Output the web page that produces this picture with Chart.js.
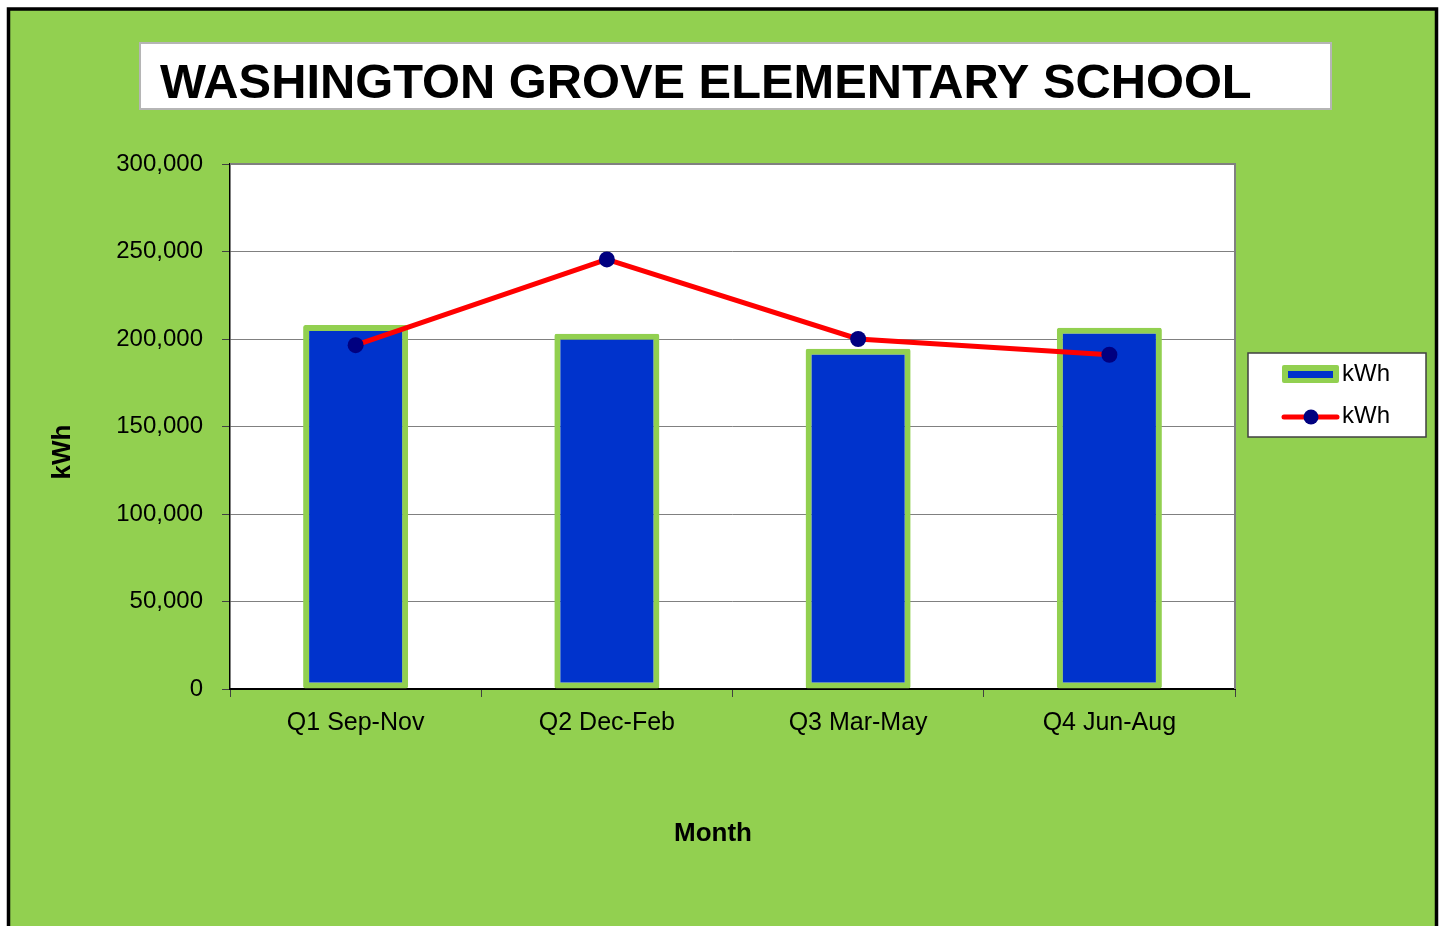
<!DOCTYPE html>
<html>
<head>
<meta charset="utf-8">
<script src="https://cdn.jsdelivr.net/npm/chart.js@4.4.0/dist/chart.umd.min.js"></script>
<style>
  html, body { margin: 0; padding: 0; background: #fff; }
  #wrap { width: 1444px; height: 926px; }
</style>
</head>
<body>
<div id="wrap"><canvas id="kwhChart" width="1444" height="926"></canvas></div>
<script>
// chart data
const chartTitle = "WASHINGTON GROVE ELEMENTARY SCHOOL";
const quarters = ["Q1 Sep-Nov", "Q2 Dec-Feb", "Q3 Mar-May", "Q4 Jun-Aug"];
const barKwh = [208000, 203000, 194500, 206500];
const lineKwh = [196500, 245500, 200000, 191000];
const yTicks = [0, 50000, 100000, 150000, 200000, 250000, 300000];
const xAxisTitle = "Month";
const yAxisTitle = "kWh";

const GREEN = "#92D050";
const BLUE = "#0033CC";
const RED = "#FF0000";
const NAVY = "#000080";
const sans = "'Liberation Sans', Arial, sans-serif";

// background, frame, title box, axis titles, legend
const decorations = {
    id: "decorations",
    beforeDraw(chart) {
        const c = chart.ctx;
        c.save();
        c.fillStyle = "#fff";
        c.fillRect(0, 0, chart.width, chart.height);
        c.fillStyle = GREEN;
        c.fillRect(8.5, 9, 1428, 1000);
        c.strokeStyle = "#000";
        c.lineWidth = 3.5;
        c.strokeRect(8.5, 9, 1428, 1000);

        // title box
        c.fillStyle = "#fff";
        c.fillRect(140, 43, 1191, 66);
        c.strokeStyle = "#b5b5b5";
        c.lineWidth = 2;
        c.strokeRect(140, 43, 1191, 66);
        c.fillStyle = "#000";
        c.font = "bold 48.8px " + sans;
        c.textBaseline = "alphabetic";
        c.textAlign = "left";
        c.fillText(chartTitle, 160, 98);

        // plot background
        const a = chart.chartArea;
        c.fillStyle = "#fff";
        c.fillRect(a.left, a.top, a.right - a.left, a.bottom - a.top);
        c.restore();
    },
    afterDraw(chart) {
        const c = chart.ctx;
        const a = chart.chartArea;
        c.save();
        // right / top plot border
        c.strokeStyle = "#808080";
        c.lineWidth = 2;
        c.beginPath();
        c.moveTo(a.left, a.top);
        c.lineTo(a.right, a.top);
        c.lineTo(a.right, a.bottom);
        c.stroke();

        // axis titles
        c.fillStyle = "#000";
        c.font = "bold 26px " + sans;
        c.textAlign = "center";
        c.textBaseline = "middle";
        c.fillText(xAxisTitle, 713, 834);
        c.translate(63, 452);
        c.rotate(-Math.PI / 2);
        c.fillText(yAxisTitle, 0, 0);
        c.restore();

        // legend
        c.save();
        c.fillStyle = "#fff";
        c.fillRect(1248, 353, 178, 84);
        c.strokeStyle = "#404040";
        c.lineWidth = 1.5;
        c.strokeRect(1248, 353, 178, 84);
        const ds = chart.data.datasets;
        // bar symbol
        c.fillStyle = GREEN;
        c.beginPath();
        c.roundRect(1282, 365, 57, 18, 2);
        c.fill();
        c.fillStyle = BLUE;
        c.fillRect(1288, 371, 45, 7);
        // line symbol
        c.strokeStyle = RED;
        c.lineWidth = 5;
        c.lineCap = "round";
        c.beginPath();
        c.moveTo(1284, 417);
        c.lineTo(1337, 417);
        c.stroke();
        c.fillStyle = NAVY;
        c.beginPath();
        c.arc(1311, 417, 7.5, 0, Math.PI * 2);
        c.fill();
        c.fillStyle = "#000";
        c.font = "24px " + sans;
        c.textAlign = "left";
        c.textBaseline = "middle";
        c.fillText(ds[0].label, 1342, 374);
        c.fillText(ds[1].label, 1342, 416);
        c.restore();
    }
};

const ctx = document.getElementById("kwhChart");

new Chart(ctx, {
    data: {
        labels: quarters,
        datasets: [{
            type: "line",
            label: "kWh",
            data: lineKwh,
            borderColor: RED,
            borderWidth: 5,
            pointRadius: 8,
            pointBackgroundColor: NAVY,
            pointBorderColor: NAVY,
            pointBorderWidth: 0,
            tension: 0,
            order: 1
        }, {
            type: "bar",
            label: "kWh",
            data: barKwh,
            backgroundColor: BLUE,
            borderColor: GREEN,
            borderWidth: 6,
            borderSkipped: false,
            borderRadius: 2,
            barPercentage: 0.418,
            categoryPercentage: 1,
            order: 2
        }]
    },
    options: {
        responsive: false,
        animation: false,
        layout: {
            padding: { left: 0, top: 164, right: 209, bottom: 0 }
        },
        plugins: {
            legend: { display: false },
            title: { display: false },
            tooltip: { enabled: false }
        },
        scales: {
            x: {
                offset: true,
                afterFit(scale) { scale.height = 237; },
                grid: {
                    offset: true,
                    drawOnChartArea: false,
                    drawTicks: true,
                    tickLength: 8,
                    tickColor: "#404040"
                },
                border: { color: "#000", width: 2 },
                ticks: {
                    color: "#000",
                    padding: 11,
                    font: { family: sans, size: 25 }
                }
            },
            y: {
                min: 0,
                max: 300000,
                afterFit(scale) { scale.width = 230; },
                afterBuildTicks(scale) {
                    scale.ticks = yTicks.map(v => ({ value: v }));
                },
                grid: {
                    color: "#808080",
                    lineWidth: 1,
                    tickLength: 8,
                    tickColor: "#404040"
                },
                border: { color: "#000", width: 1.5 },
                ticks: {
                    color: "#000",
                    padding: 19,
                    font: { family: sans, size: 24 },
                    callback: v => v.toLocaleString("en-US")
                }
            }
        }
    },
    plugins: [decorations]
});
</script>
</body>
</html>
